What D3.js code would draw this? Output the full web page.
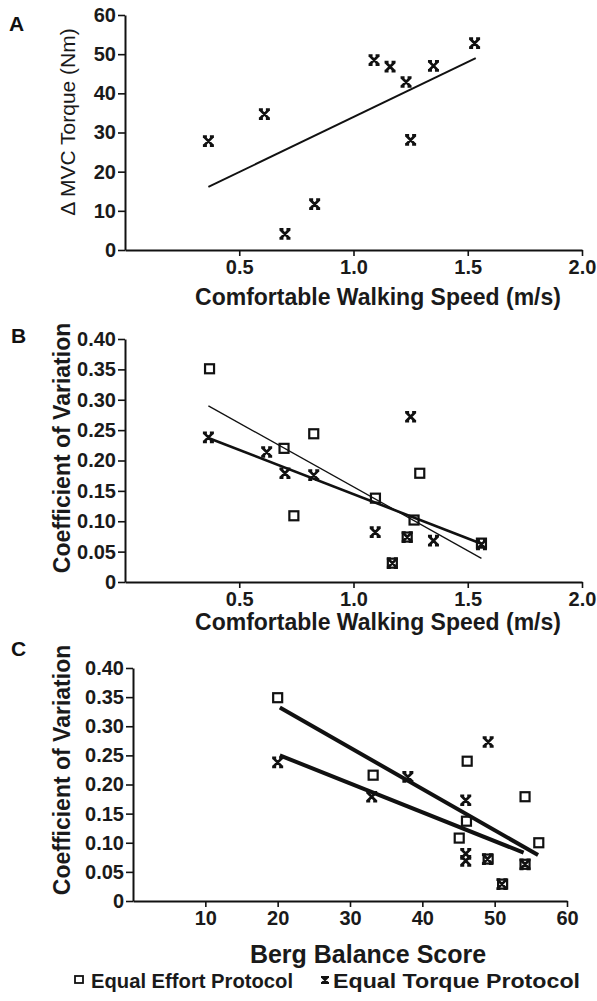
<!DOCTYPE html>
<html>
<head>
<meta charset="utf-8">
<script src="https://cdn.jsdelivr.net/npm/d3@7"></script>
<style>
  body { margin: 0; background: #fff; }
  svg { display: block; }
</style>
</head>
<body>
<div id="container"></div>
<script>
/* Police */
fontPolice = "'Liberation Sans', Arial, sans-serif";

/* Panel A : vitesse de marche vs delta couple MVC */
speedA = [0.365, 0.61, 0.70, 0.83, 1.09, 1.16, 1.23, 1.25, 1.35, 1.53];
torqueA = [27.8, 34.7, 4.1, 11.7, 48.5, 46.8, 42.9, 28.1, 47.0, 52.8];
fitA = [[0.365, 16.1], [1.535, 49.0]];

/* Panel B : vitesse de marche vs coefficient de variation */
speedEffortB = [0.37, 0.696, 0.739, 0.826, 1.096, 1.17, 1.235, 1.265, 1.29, 1.56];
cvEffortB = [0.351, 0.220, 0.109, 0.244, 0.138, 0.031, 0.074, 0.102, 0.179, 0.064];
speedTorqueB = [0.365, 0.62, 0.70, 0.826, 1.095, 1.17, 1.235, 1.25, 1.35, 1.56];
cvTorqueB = [0.238, 0.214, 0.179, 0.176, 0.082, 0.031, 0.074, 0.272, 0.068, 0.062];
fitEffortB = [[0.365, 0.290], [1.56, 0.039]];
fitTorqueB = [[0.365, 0.237], [1.56, 0.063]];

/* Panel C : score de Berg vs coefficient de variation */
bergEffortC = [20, 33.2, 45.1, 46.1, 46.2, 49.1, 51.1, 54.2, 54.2, 56.1];
cvEffortC = [0.349, 0.216, 0.108, 0.137, 0.240, 0.072, 0.029, 0.063, 0.179, 0.100];
bergTorqueC = [20, 33, 38, 46, 46, 46, 49.1, 49, 51, 54.2];
cvTorqueC = [0.238, 0.179, 0.213, 0.173, 0.081, 0.069, 0.273, 0.072, 0.029, 0.063];
fitEffortC = [[20.3, 0.332], [56, 0.079]];
fitTorqueC = [[20.3, 0.250], [54, 0.083]];

/* Graduations */
speedTicks = [0.5, 1.0, 1.5, 2.0];
torqueTicks = [0, 10, 20, 30, 40, 50, 60];
cvTicks = [0, 0.05, 0.10, 0.15, 0.20, 0.25, 0.30, 0.35, 0.40];
bergTicks = [10, 20, 30, 40, 50, 60];

/* Légende */
legendLabels = ["Equal Effort Protocol", "Equal Torque Protocol"];

const svg = d3.select("#container").append("svg")
  .attr("width", 597)
  .attr("height", 1001)
  .style("font-family", fontPolice);

/* Marqueur "x" avec petites barres */
function crossPath(s) {
  return "M" + (-s) + "," + (-s) + "L" + s + "," + s +
         "M" + s + "," + (-s) + "L" + (-s) + "," + s +
         "M" + (-s - 1) + "," + (-s) + "H" + (-s + 3) +
         "M" + (s - 3) + "," + (-s) + "H" + (s + 1) +
         "M" + (-s - 1) + "," + s + "H" + (-s + 3) +
         "M" + (s - 3) + "," + s + "H" + (s + 1);
}

/**
 * Construit un panneau : axes, titres, points, droites de régression
**/
function drawPanel(p) {
  const x = d3.scaleLinear().domain(p.xDomain).range([p.left, p.right]);
  const y = d3.scaleLinear().domain(p.yDomain).range([p.bottom, p.top]);
  const g = svg.append("g");

  const xAxis = g.append("g")
    .attr("transform", "translate(0," + p.bottom + ")")
    .call(d3.axisBottom(x).tickValues(p.xTicks).tickFormat(p.xFormat)
      .tickSize(6).tickSizeOuter(0).tickPadding(4));
  const yAxis = g.append("g")
    .attr("transform", "translate(" + p.left + ",0)")
    .call(d3.axisLeft(y).tickValues(p.yTicks).tickFormat(p.yFormat)
      .tickSize(7).tickSizeOuter(0).tickPadding(2));

  [xAxis, yAxis].forEach(function(a) {
    a.select(".domain").attr("stroke", "#111").attr("stroke-width", 2);
    a.selectAll(".tick line").attr("stroke", "#111").attr("stroke-width", 1.6);
    a.selectAll(".tick text")
      .attr("fill", "#1a1a1a")
      .style("font-size", p.tickSize + "px")
      .style("font-weight", "bold")
      .style("font-family", fontPolice);
  });

  /* Titres */
  g.append("text")
    .attr("x", p.xTitlePos[0])
    .attr("y", p.xTitlePos[1])
    .attr("text-anchor", "middle")
    .attr("fill", "#1a1a1a")
    .style("font-size", p.xTitleSize + "px")
    .style("font-weight", "bold")
    .text(p.xTitle);

  g.append("text")
    .attr("transform", "translate(" + p.yTitlePos[0] + "," + p.yTitlePos[1] + ") rotate(-90)")
    .attr("text-anchor", "middle")
    .attr("fill", "#1a1a1a")
    .style("font-size", p.yTitleSize + "px")
    .style("font-weight", p.yTitleWeight)
    .text(p.yTitle);

  g.append("text")
    .attr("x", p.labelPos[0])
    .attr("y", p.labelPos[1])
    .attr("fill", "#111")
    .style("font-size", "21px")
    .style("font-weight", "bold")
    .text(p.label);

  /* Droites de régression */
  p.fits.forEach(function(f) {
    g.append("line")
      .attr("x1", x(f.pts[0][0])).attr("y1", y(f.pts[0][1]))
      .attr("x2", x(f.pts[1][0])).attr("y2", y(f.pts[1][1]))
      .attr("stroke", "#111")
      .attr("stroke-width", f.width);
  });

  /* Carrés (effort) */
  if (p.squares) {
    g.selectAll("rect.sq")
      .data(d3.range(p.squares.x.length))
      .enter().append("rect")
        .attr("class", "sq")
        .attr("x", function(i) { return x(p.squares.x[i]) - 4.5; })
        .attr("y", function(i) { return y(p.squares.y[i]) - 4.5; })
        .attr("width", 9)
        .attr("height", 9)
        .attr("fill", "none")
        .attr("stroke", "#111")
        .attr("stroke-width", 2.2);
  }

  /* Croix (couple) */
  g.selectAll("path.cross")
    .data(d3.range(p.crosses.x.length))
    .enter().append("path")
      .attr("class", "cross")
      .attr("transform", function(i) {
        return "translate(" + x(p.crosses.x[i]) + "," + y(p.crosses.y[i]) + ")";
      })
      .attr("d", crossPath(4.5))
      .attr("fill", "none")
      .attr("stroke", "#111")
      .attr("stroke-width", 2.7);
}

drawPanel({
  label: "A", labelPos: [9, 31],
  xDomain: [0, 2], yDomain: [0, 60],
  left: 125, right: 582, top: 15, bottom: 250,
  xTicks: speedTicks, yTicks: torqueTicks,
  xFormat: d3.format(".1f"), yFormat: d3.format("d"),
  tickSize: 20,
  xTitle: "Comfortable Walking Speed (m/s)", xTitlePos: [378, 305], xTitleSize: 23,
  yTitle: "\u0394 MVC Torque (Nm)", yTitlePos: [75, 122], yTitleSize: 21, yTitleWeight: "normal",
  fits: [{pts: fitA, width: 2}],
  squares: null,
  crosses: {x: speedA, y: torqueA}
});

drawPanel({
  label: "B", labelPos: [11, 343],
  xDomain: [0, 2], yDomain: [0, 0.40],
  left: 125, right: 582, top: 339, bottom: 582,
  xTicks: speedTicks, yTicks: cvTicks,
  xFormat: d3.format(".1f"), yFormat: function(d) { return d === 0 ? "0" : d3.format(".2f")(d); },
  tickSize: 20,
  xTitle: "Comfortable Walking Speed (m/s)", xTitlePos: [378, 630], xTitleSize: 23,
  yTitle: "Coefficient of Variation", yTitlePos: [70, 448], yTitleSize: 23, yTitleWeight: "bold",
  fits: [{pts: fitEffortB, width: 1.3}, {pts: fitTorqueB, width: 2.6}],
  squares: {x: speedEffortB, y: cvEffortB},
  crosses: {x: speedTorqueB, y: cvTorqueB}
});

drawPanel({
  label: "C", labelPos: [11, 656],
  xDomain: [0, 60], yDomain: [0, 0.40],
  left: 133, right: 567, top: 668, bottom: 901,
  xTicks: bergTicks, yTicks: cvTicks,
  xFormat: d3.format("d"), yFormat: function(d) { return d === 0 ? "0" : d3.format(".2f")(d); },
  tickSize: 20,
  xTitle: "Berg Balance Score", xTitlePos: [368, 963], xTitleSize: 25,
  yTitle: "Coefficient of Variation", yTitlePos: [70, 770], yTitleSize: 23, yTitleWeight: "bold",
  fits: [{pts: fitEffortC, width: 4}, {pts: fitTorqueC, width: 4}],
  squares: {x: bergEffortC, y: cvEffortC},
  crosses: {x: bergTorqueC, y: cvTorqueC}
});

/* Légende */
const legend = svg.append("g");
legend.append("rect")
  .attr("x", 75).attr("y", 976)
  .attr("width", 8).attr("height", 7)
  .attr("fill", "none").attr("stroke", "#111").attr("stroke-width", 1.8);
legend.append("path")
  .attr("transform", "translate(325,980)")
  .attr("d", crossPath(3))
  .attr("fill", "none").attr("stroke", "#111").attr("stroke-width", 2.2);
legend.selectAll("text")
  .data(legendLabels)
  .enter().append("text")
    .attr("x", function(d, i) { return i === 0 ? 91 : 333; })
    .attr("y", 988)
    .attr("textLength", function(d, i) { return i === 0 ? 202 : 247; })
    .attr("lengthAdjust", "spacingAndGlyphs")
    .attr("fill", "#1a1a1a")
    .style("font-size", "21px")
    .style("font-weight", "bold")
    .text(function(d) { return d; });
</script>
</body>
</html>
